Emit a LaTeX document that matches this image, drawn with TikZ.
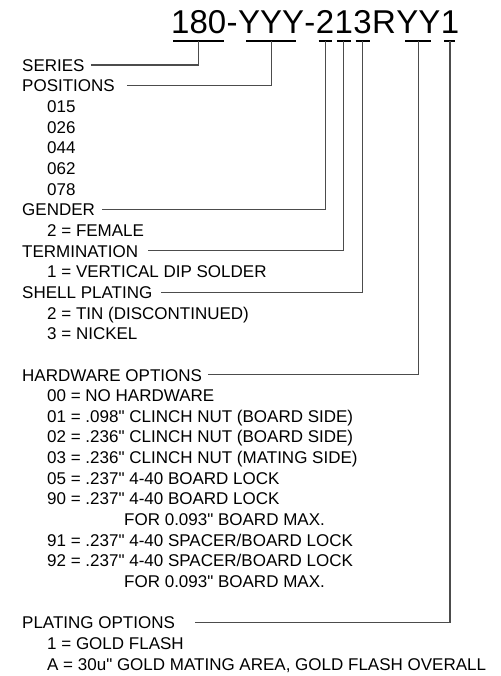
\documentclass[tikz,border=0pt]{standalone}
\usepackage{fontspec}
\setmainfont{Liberation Sans}[Ligatures=TeXOff]
\begin{document}
\begin{tikzpicture}[x=1pt,y=-1pt,
  lbl/.style={anchor=west,inner sep=0pt,font=\fontsize{17}{20}\selectfont,text height=12.2pt,text depth=0pt},
  seg/.style={inner sep=0pt,font=\fontsize{33}{36}\selectfont,anchor=base west},
  uline/.style={line width=2.4pt,black},
  conn/.style={line width=1.1pt,draw=black!70}]
\useasboundingbox (0,0) rectangle (500,676);
% title segments
\node[seg] (s1) at (171,33.3) {180};
\node[seg] (d1) at (s1.base east) {-};
\node[seg] (s2) at (d1.base east) {YYY};
\node[seg] (d2) at (s2.base east) {-};
\node[seg] (s3) at (d2.base east) {2};
\node[seg] (s4) at (s3.base east) {1};
\node[seg] (s5) at (s4.base east) {3};
\node[seg] (r1) at (s5.base east) {R};
\node[seg] (s6) at (r1.base east) {YY};
\node[seg] (s7) at (s6.base east) {1};
% underline centres
\coordinate (u1) at ([yshift=-8pt]s1.base);
\coordinate (u2) at ([yshift=-8pt]s2.base);
\coordinate (u3) at ([yshift=-8pt]s3.base);
\coordinate (u4) at ([yshift=-8pt]s4.base);
\coordinate (u5) at ([yshift=-8pt]s5.base);
\coordinate (u6) at ([yshift=-8pt]s6.base);
\coordinate (u7) at ([yshift=-8pt]s7.base);
\draw[uline] ([xshift=-25.5pt]u1) -- ([xshift=25.5pt]u1);
\draw[uline] ([xshift=-25pt]u2) -- ([xshift=25pt]u2);
\draw[uline] ([xshift=-6.5pt]u3) -- ([xshift=6.5pt]u3);
\draw[uline] ([xshift=-7pt]u4) -- ([xshift=7pt]u4);
\draw[uline] ([xshift=-7pt]u5) -- ([xshift=7pt]u5);
\draw[uline] ([xshift=-13pt]u6) -- ([xshift=13pt]u6);
\draw[uline] ([xshift=-5.5pt]u7) -- ([xshift=5.5pt]u7);
% labels
\node[lbl] (series) at (22,65) {SERIES};
\node[lbl] (positions) at (22,85.66) {POSITIONS};
\node[lbl] (p1) at (47,106.32) {015};
\node[lbl] (p2) at (47,126.98) {026};
\node[lbl] (p3) at (47,147.64) {044};
\node[lbl] (p4) at (47,168.3) {062};
\node[lbl] (p5) at (47,188.96) {078};
\node[lbl] (gender) at (22,209.62) {GENDER};
\node[lbl] (g1) at (47,230.28) {2 = FEMALE};
\node[lbl] (term) at (22,250.94) {TERMINATION};
\node[lbl] (t1) at (47,271.6) {1 = VERTICAL DIP SOLDER};
\node[lbl] (shell) at (22,292.26) {SHELL PLATING};
\node[lbl] (sh1) at (47,312.92) {2 = TIN (DISCONTINUED)};
\node[lbl] (sh2) at (47,333.58) {3 = NICKEL};
\node[lbl] (hw) at (22,374.9) {HARDWARE OPTIONS};
\node[lbl] (h1) at (47,395.56) {00 = NO HARDWARE};
\node[lbl] (h2) at (47,416.22) {01 = .098" CLINCH NUT (BOARD SIDE)};
\node[lbl] (h3) at (47,436.88) {02 = .236" CLINCH NUT (BOARD SIDE)};
\node[lbl] (h4) at (47,457.54) {03 = .236" CLINCH NUT (MATING SIDE)};
\node[lbl] (h5) at (47,478.2) {05 = .237" 4-40 BOARD LOCK};
\node[lbl] (h6) at (47,498.86) {90 = .237" 4-40 BOARD LOCK};
\node[lbl] (h7) at (124,519.52) {FOR 0.093" BOARD MAX.};
\node[lbl] (h8) at (47,540.18) {91 = .237" 4-40 SPACER/BOARD LOCK};
\node[lbl] (h9) at (47,560.84) {92 = .237" 4-40 SPACER/BOARD LOCK};
\node[lbl] (h10) at (124,581.5) {FOR 0.093" BOARD MAX.};
\node[lbl] (plat) at (22,622.82) {PLATING OPTIONS};
\node[lbl] (pl1) at (47,643.48) {1 = GOLD FLASH};
\node[lbl] (pl2) at (47,664.14) {A = 30u" GOLD MATING AREA, GOLD FLASH OVERALL};
% connectors
\draw[conn] ([xshift=6pt]series.east) -| (u1);
\draw[conn] ([xshift=12pt]positions.east) -| (u2);
\draw[conn] ([xshift=7pt]gender.east) -| (u3);
\draw[conn] ([xshift=10pt]term.east) -| (u4);
\draw[conn] ([xshift=9pt]shell.east) -| (u5);
\draw[conn] ([xshift=6pt]hw.east) -| (u6);
\draw[conn] ([xshift=20pt]plat.east) -| (u7);
\end{tikzpicture}
\end{document}
